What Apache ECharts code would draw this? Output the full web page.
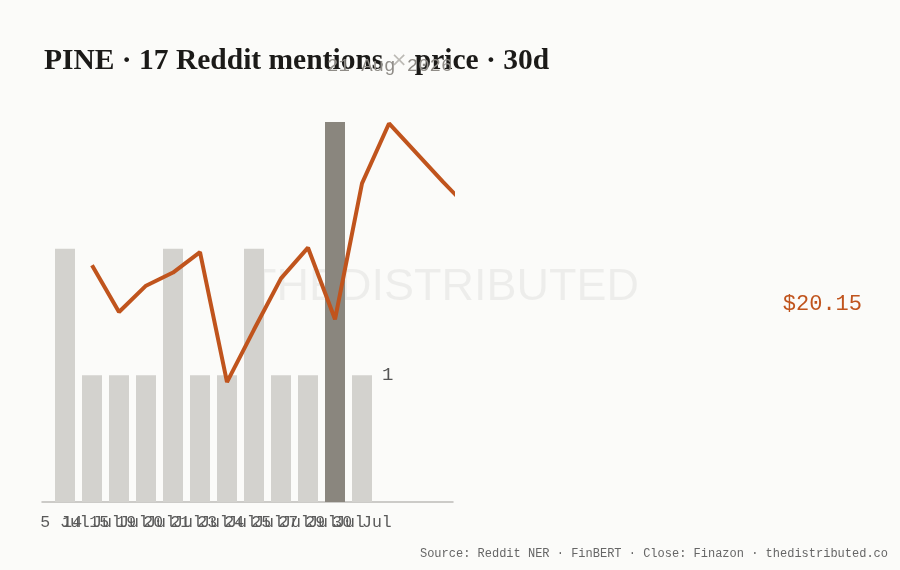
<!DOCTYPE html>
<html>
<head>
<meta charset="utf-8">
<script src="https://cdn.jsdelivr.net/npm/echarts@6/dist/echarts.min.js"></script>
<style>
  html, body { margin: 0; padding: 0; background: #fbfbf9; }
  #chart { width: 900px; height: 570px; }
</style>
</head>
<body>
<div id="chart"></div>
<script>
// mention days (bars) and daily closes (line)
const mentionDates = ["5 Jul", "14 Jul", "15 Jul", "19 Jul", "20 Jul", "21 Jul",
                      "23 Jul", "24 Jul", "25 Jul", "27 Jul", "29 Jul", "30 Jul"];
const mentionCounts = [2, 1, 1, 1, 2, 1, 1, 2, 1, 1, 3, 1];
const closeStart = 1; // first close sits on the second mention slot
const closes = [20.42, 20.10, 20.28, 20.37, 20.51, 19.62, 19.98, 20.33, 20.54, 20.05,
                20.98, 21.39, 21.19, 20.99, 20.80, 20.62, 20.48, 20.55, 20.31, 20.40,
                20.22, 20.35, 20.18, 20.27, 20.09, 20.15];

const monoFont = "Liberation Mono";
const maxCount = Math.max(...mentionCounts);

document.addEventListener("DOMContentLoaded", function () {
  const chart = echarts.init(document.getElementById("chart"));

  const barData = mentionCounts.map((v, i) => {
    const item = { value: v };
    if (i === mentionCounts.length - 1) {
      item.label = {
        show: true,
        position: ["100%", 0],
        offset: [10, 0],
        align: "left",
        verticalAlign: "middle",
        color: "#555",
        fontFamily: monoFont,
        fontSize: 19,
      };
    }
    return item;
  });
  const lineData = closes.map((v, i) => [closeStart + i, v]);

  const option = {
    animation: false,
    backgroundColor: "#fbfbf9",
    title: [
      {
        left: 39,
        top: 41,
        text: "{a|PINE · 17 Reddit mentions }{x|×}{a| price · 30d}",
        textStyle: {
          rich: {
            a: { fontFamily: "Liberation Serif", fontWeight: "bold", fontSize: 29.5, color: "#1b1a18" },
            x: { fontFamily: "DejaVu Sans", fontWeight: "normal", fontSize: 20, color: "#bcbab5" },
          },
        },
      },
      {
        left: 322,
        top: 51,
        text: "21 Aug 2026",
        textStyle: { fontFamily: monoFont, fontWeight: "normal", fontSize: 19, color: "#8f8c87" },
      },
      {
        right: 7,
        bottom: 5,
        text: "Source: Reddit NER · FinBERT · Close: Finazon · thedistributed.co",
        textStyle: { fontFamily: monoFont, fontWeight: "normal", fontSize: 12, color: "#666" },
      },
    ],
    graphic: [
      {
        id: "watermark",
        type: "text",
        left: 249,
        top: 265,
        z: -10,
        silent: true,
        style: {
          text: "THEDISTRIBUTED",
          font: "45px Liberation Sans",
          fill: "rgba(0,0,0,0.055)",
        },
      },
    ],
    grid: [
      { left: 51.5, width: 324, top: 122, bottom: 68 },
      { left: 42, right: 447, top: 122, bottom: 68 },
    ],
    xAxis: [
      {
        type: "category",
        gridIndex: 0,
        data: mentionDates,
        axisLine: { show: false },
        axisTick: { show: false },
        axisLabel: {
          interval: 0,
          hideOverlap: false,
          color: "#5a5a5a",
          fontFamily: monoFont,
          fontSize: 16.5,
          margin: 12,
        },
      },
      {
        type: "value",
        gridIndex: 1,
        min: -0.852,
        max: 14.37,
        splitLine: { show: false },
        axisTick: { show: false },
        axisLabel: { show: false },
        axisLine: { show: true, lineStyle: { color: "#bdbcb8", width: 1.5 } },
      },
    ],
    yAxis: [
      { type: "value", gridIndex: 0, min: 0, max: 3, show: false },
      { type: "value", gridIndex: 1, min: 18.8, max: 21.4, show: false },
    ],
    series: [
      {
        name: "Mentions",
        type: "bar",
        xAxisIndex: 0,
        yAxisIndex: 0,
        barWidth: 20,
        data: barData,
        itemStyle: {
          color: (p) => (p.value === maxCount ? "#8a867e" : "#d3d2ce"),
        },
      },
      {
        name: "Close",
        type: "line",
        xAxisIndex: 1,
        yAxisIndex: 1,
        data: lineData,
        showSymbol: false,
        clip: true,
        lineStyle: { color: "#c0541d", width: 4 },
        itemStyle: { color: "#c0541d" },
      },
    ],
  };
  chart.setOption(option);

  // last close tag, placed at the height of the last close on the price scale
  const last = lineData[lineData.length - 1];
  const lastY = chart.convertToPixel({ xAxisIndex: 1, yAxisIndex: 1 }, last)[1];
  chart.setOption({
    graphic: [
      {
        id: "lastClose",
        type: "text",
        right: 38,
        top: lastY - 12,
        silent: true,
        style: {
          text: "$" + last[1].toFixed(2),
          font: "22px Liberation Mono",
          fill: "#c0541d",
        },
      },
    ],
  });

  window.addEventListener("resize", () => {
    chart.resize();
  });
});
</script>
</body>
</html>
